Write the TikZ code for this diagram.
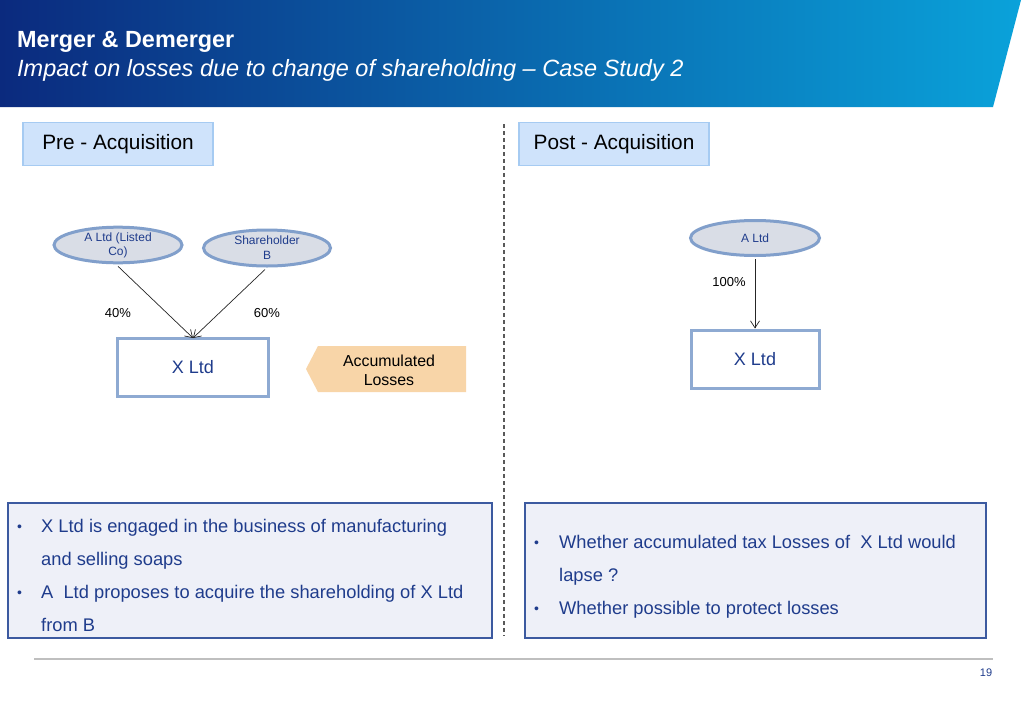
\documentclass[tikz,border=0pt]{standalone}
\usepackage{fontspec}
\setmainfont{Liberation Sans}
\usetikzlibrary{shapes.geometric,arrows.meta}
\definecolor{navyA}{HTML}{0B2A7E}
\definecolor{navyM}{HTML}{08348A}
\definecolor{skyB}{HTML}{0AA2DA}
\definecolor{tabfill}{HTML}{CFE3FB}
\definecolor{tabline}{HTML}{A6CBF2}
\definecolor{ovalfill}{HTML}{D9DDE6}
\definecolor{ovalline}{HTML}{819FCB}
\definecolor{boxline}{HTML}{8EAAD2}
\definecolor{txtnavy}{HTML}{1F3C8C}
\definecolor{lossfill}{HTML}{F8D5A8}
\definecolor{infofill}{HTML}{EEF0F8}
\definecolor{infoline}{HTML}{3C5AA0}
\tikzset{
  x=1pt,y=-1pt,
  tab/.style={draw=tabline,line width=1.5pt,fill=tabfill,minimum width=190pt,minimum height=43pt,font=\fontsize{20.8}{24}\selectfont,inner sep=0pt},
  oval/.style={ellipse,draw=ovalline,line width=3pt,fill=ovalfill,text=txtnavy,font=\fontsize{12}{15}\selectfont,align=center,inner sep=0pt},
  entity/.style={draw=boxline,line width=3pt,fill=white,text=txtnavy,font=\fontsize{18}{22}\selectfont,inner sep=0pt},
  pct/.style={font=\fontsize{13}{16}\selectfont},
  link/.style={-{Straight Barb[length=7pt,width=9pt]},line width=0.7pt,black!85},
  info/.style={draw=infoline,line width=1.8pt,fill=infofill,inner sep=0pt},
  btxt/.style={anchor=base west,text=txtnavy,font=\fontsize{18.3}{22}\selectfont,inner sep=0pt},
  bdot/.style={anchor=base west,text=txtnavy,font=\fontsize{14}{16}\selectfont,inner sep=0pt},
}
\begin{document}
\begin{tikzpicture}
\useasboundingbox (0,0) rectangle (1024,709);
\fill[white] (0,0) rectangle (1024,709);
% header
\shade[left color=navyA,middle color=navyM,right color=skyB] (0,0) -- (1021,0) -- (993,107) -- (0,107) -- cycle;
\node[anchor=west,text=white,font=\bfseries\fontsize{23.4}{27}\selectfont,inner sep=0pt] (title) at (17,42) {Merger \& Demerger};
\node[anchor=west,text=white,font=\itshape\fontsize{23.5}{27}\selectfont,inner sep=0pt] (subtitle) at (17,70) {Impact on losses due to change of shareholding -- Case Study 2};
% tabs
\node[tab] (pre) at (118,144) {\raisebox{-2pt}{Pre - Acquisition}};
\node[tab] (post) at (614,144) {\raisebox{-2pt}{Post - Acquisition}};
% divider
\draw[line width=1.2pt,black!65,dash pattern=on 4pt off 3pt] (504,124) -- (504,636);
% pre diagram
\node[oval,minimum width=128pt,minimum height=34pt] (altdl) at (118,245) {A Ltd (Listed\\[-1pt]Co)};
\node[oval,minimum width=127pt,minimum height=36pt] (shb) at (267,248) {Shareholder\\B};
\node[entity,minimum width=151pt,minimum height=58pt] (xl) at (193,367) {X Ltd};
\coordinate (xltop) at (193,338);
\draw[link] (altdl.south) ++(0,2) -- (xltop);
\draw[link] (shb.south) ++(-2,2) -- (xltop);
\node[pct] (p40) at (118,313) {40\%};
\node[pct] (p60) at (267,313) {60\%};
\fill[lossfill] (318,346) -- (466,346) -- (466,392) -- (318,392) -- (306,369) -- cycle;
\node[align=center,font=\fontsize{15.9}{19}\selectfont,inner sep=0pt] (losstxt) at (389,370) {Accumulated\\Losses};
% post diagram
\node[oval,minimum width=129pt,minimum height=35pt] (altdr) at (755,238) {A Ltd};
\node[entity,minimum width=128pt,minimum height=58pt] (xr) at (755,359) {X Ltd};
\draw[link] (altdr.south) ++(0,2) -- (xr.north);
\node[pct] (p100) at (729,282) {100\%};
% info boxes
\node[info,minimum width=484pt,minimum height=135pt] (infol) at (250,570.5) {};
\node[info,minimum width=461pt,minimum height=135pt] (infor) at (755.5,570.5) {};
\node[bdot] (bl1) at (17,531) {\textbullet};
\node[btxt] (tl1) at (41,532) {X Ltd is engaged in the business of manufacturing};
\node[btxt] (tl2) at (41,565) {and selling soaps};
\node[bdot] (bl2) at (17,597) {\textbullet};
\node[btxt] (tl3) at (41,598) {A\ \ Ltd proposes to acquire the shareholding of X Ltd};
\node[btxt] (tl4) at (41,631) {from B};
\node[bdot] (br1) at (534,547) {\textbullet};
\node[btxt] (tr1) at (559,548) {Whether accumulated tax Losses of\ \ X Ltd would};
\node[btxt] (tr2) at (559,581) {lapse ?};
\node[bdot] (br2) at (534,613) {\textbullet};
\node[btxt] (tr3) at (559,614) {Whether possible to protect losses};
% footer
\draw[black!25,line width=1.2pt] (34,659) -- (993,659);
\node[text=txtnavy,font=\fontsize{11}{13}\selectfont,inner sep=0pt] (pg) at (986,673) {19};
\end{tikzpicture}
\end{document}
